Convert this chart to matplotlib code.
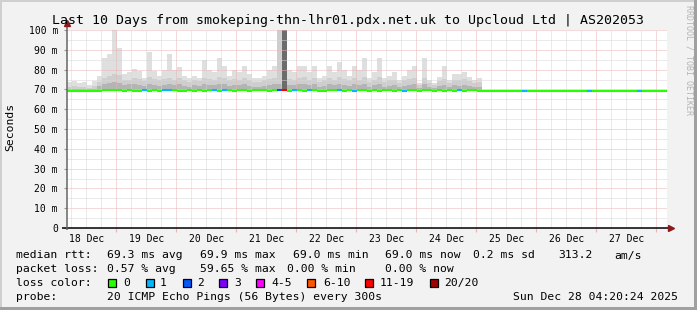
import matplotlib
matplotlib.use('Agg')
import matplotlib.pyplot as plt
from matplotlib.patches import Rectangle
from matplotlib.collections import LineCollection
from datetime import datetime, timedelta

# ---------------- data ----------------
start = datetime(2025, 12, 18, 4, 20, 24)
bin_hours = 2  # consolidation step of the drawn data (hours)

# median rtt per 2-hour bin (ms), 120 bins = 10 days
median_ms = [
    69.0, 69.0, 69.0, 69.0, 69.0, 69.0, 69.0, 69.6, 69.6, 69.6,
    69.6, 69.0, 69.6, 69.0, 69.0, 69.6, 69.0, 69.6, 69.0, 69.6,
    69.6, 69.6, 69.0, 69.0, 69.6, 69.0, 69.6, 69.0, 69.6, 69.6,
    69.0, 69.6, 69.6, 69.0, 69.6, 69.6, 69.0, 69.6, 69.6, 69.6,
    69.0, 69.6, 69.6, 69.6, 69.0, 69.6, 69.6, 69.0, 69.6, 69.6,
    69.0, 69.0, 69.6, 69.6, 69.6, 69.0, 69.6, 69.0, 69.6, 69.6,
    69.0, 69.6, 69.0, 69.6, 69.6, 69.0, 69.6, 69.0, 69.6, 69.6,
    69.0, 69.6, 69.6, 69.0, 69.6, 69.0, 69.6, 69.0, 69.6, 69.0,
    69.6, 69.6, 69.0, 69.3, 69.3, 69.3, 69.3, 69.3, 69.3, 69.3,
    69.3, 69.3, 69.3, 69.3, 69.3, 69.3, 69.3, 69.3, 69.3, 69.3,
    69.3, 69.3, 69.3, 69.3, 69.3, 69.3, 69.3, 69.3, 69.3, 69.3,
    69.3, 69.3, 69.3, 69.3, 69.3, 69.3, 69.3, 69.3, 69.3, 69.3,
]

# smoke (ping spread) for the first 83 bins (ms)
smoke_max = [
    73.5, 74.0, 73.0, 73.5, 72.0, 74.0, 77.0, 86.0, 88.0, 100.0,
    91.0, 78.0, 79.0, 80.5, 79.5, 76.0, 89.0, 79.5, 77.0, 80.0,
    88.0, 79.8, 81.5, 77.0, 75.6, 77.0, 76.0, 85.0, 80.0, 79.0,
    85.7, 82.0, 77.0, 80.0, 79.0, 81.6, 78.0, 75.7, 75.7, 77.0,
    80.0, 82.0, 100.0, 100.0, 80.0, 79.0, 81.6, 81.6, 79.0, 81.6,
    75.7, 77.0, 81.6, 79.0, 83.7, 80.0, 77.0, 82.0, 80.0, 85.7,
    75.7, 79.0, 85.7, 75.7, 77.0, 79.0, 74.5, 77.0, 80.0, 81.6,
    73.0, 85.7, 74.5, 73.0, 76.4, 81.6, 74.5, 78.0, 78.0, 79.0,
    76.4, 74.5, 75.7,
]
smoke_mid = [
    71.0, 71.5, 71.0, 71.2, 70.8, 71.5, 73.5, 76.0, 77.0, 78.0,
    77.5, 74.5, 75.0, 76.0, 75.5, 74.0, 76.5, 75.5, 74.5, 75.5,
    76.0, 75.0, 76.0, 74.5, 73.5, 74.5, 74.0, 76.0, 75.5, 75.0,
    76.5, 76.0, 74.5, 75.5, 75.0, 76.0, 74.5, 73.5, 73.5, 74.5,
    75.5, 76.0, 100.0, 100.0, 75.5, 75.0, 76.0, 76.5, 75.0, 76.0,
    73.5, 74.5, 76.0, 75.0, 76.5, 75.5, 74.5, 76.0, 75.0, 76.5,
    73.5, 75.0, 76.5, 73.5, 74.5, 75.0, 73.0, 74.5, 75.5, 76.0,
    72.0, 76.0, 73.0, 72.0, 74.0, 75.5, 73.0, 75.0, 74.5, 75.5,
    74.0, 73.0, 73.5,
]
smoke_low = [
    70.0, 70.3, 70.0, 70.2, 70.0, 70.4, 71.5, 72.5, 73.0, 73.5,
    73.0, 72.0, 72.5, 72.5, 72.0, 71.5, 72.5, 72.0, 71.5, 72.0,
    72.5, 72.0, 72.5, 71.5, 71.0, 72.0, 71.5, 72.5, 72.0, 72.0,
    72.5, 72.5, 71.5, 72.0, 72.0, 72.5, 71.5, 71.0, 71.0, 71.5,
    72.0, 72.5, 72.5, 100.0, 72.0, 72.0, 72.5, 72.5, 72.0, 72.5,
    71.0, 71.5, 72.5, 72.0, 72.5, 72.0, 71.5, 72.5, 72.0, 72.5,
    71.0, 72.0, 72.5, 71.0, 71.5, 72.0, 71.0, 71.5, 72.0, 72.5,
    70.5, 72.5, 71.0, 70.5, 71.5, 72.0, 71.0, 72.0, 71.5, 72.0,
    71.5, 71.0, 71.0,
]

# bins with packet loss (index of 2-hour bin, lost pings out of 20)
loss_bins = [15, 19, 20, 29, 31, 42, 43, 45, 48, 54, 57, 67, 78, 91, 104, 114]
loss_counts = [1, 1, 1, 1, 1, 2, 12, 1, 1, 1, 1, 1, 1, 1, 1, 1]

loss_labels = ['0', '1', '2', '3', '4-5', '6-10', '11-19', '20/20']
loss_colors = ['#26ff00', '#00b8ff', '#0059ff', '#7e00ff', '#ff00ff',
               '#ff5500', '#ff0000', '#a10000']

y_ticks = [0, 10, 20, 30, 40, 50, 60, 70, 80, 90, 100]
y_labels = ['0', '10 m', '20 m', '30 m', '40 m', '50 m', '60 m', '70 m',
            '80 m', '90 m', '100 m']
day_labels = ['18 Dec', '19 Dec', '20 Dec', '21 Dec', '22 Dec', '23 Dec',
              '24 Dec', '25 Dec', '26 Dec', '27 Dec']

title = 'Last 10 Days from smokeping-thn-lhr01.pdx.net.uk to Upcloud Ltd | AS202053'
row_rtt = [(16, 'median rtt:'), (107, '69.3 ms avg'), (200, '69.9 ms max'),
           (293, '69.0 ms min'), (385, '69.0 ms now'), (473, '0.2 ms sd'),
           (558, '313.2'), (614, 'am/s')]
row_loss = [(16, 'packet loss:'), (107, '0.57 % avg'), (200, '59.65 % max'),
            (287, '0.00 % min'), (385, '0.00 % now')]
row_probe = [(16, 'probe:'), (107, '20 ICMP Echo Pings (56 Bytes) every 300s'),
             (513, 'Sun Dec 28 04:20:24 2025')]

# ---------------- helpers ----------------
W, H = 697, 310
MONO = 'DejaVu Sans Mono'
GRID_MAJOR = '#e9b4b4'
GRID_MINOR = '#d6d6d6'


def fx(px):
    return px / W


def fy(py):
    return 1 - py / H


def loss_class(n):
    if n <= 0:
        return 0
    if n == 1:
        return 1
    if n == 2:
        return 2
    if n == 3:
        return 3
    if n <= 5:
        return 4
    if n <= 10:
        return 5
    if n <= 19:
        return 6
    return 7


def days(dt):
    return (dt - start).total_seconds() / 86400.0


fig = plt.figure(figsize=(W / 100, H / 100), dpi=100, facecolor='#f2f2f2')

# frame of the canvas
fig.add_artist(Rectangle((0, fy(2)), 1, 2 / H, transform=fig.transFigure,
                         color='#cfcfcf', lw=0))
fig.add_artist(Rectangle((0, 0), 2 / W, 1, transform=fig.transFigure,
                         color='#cfcfcf', lw=0))
fig.add_artist(Rectangle((0, 0), 1, 3 / H, transform=fig.transFigure,
                         color='#a0a0a0', lw=0))
fig.add_artist(Rectangle((fx(694), 0), 3 / W, 1, transform=fig.transFigure,
                         color='#a0a0a0', lw=0))

ax = fig.add_axes([fx(67), fy(228), 600 / W, 198 / H])
ax.set_facecolor('white')
ax.set_xlim(0, 10)
ax.set_ylim(0, 100)
for s in ax.spines.values():
    s.set_visible(False)

bw = bin_hours / 24.0
nb = len(median_ms)
loss_full = [0] * nb
for b, c in zip(loss_bins, loss_counts):
    loss_full[b] = c

# smoke
ns = len(smoke_max)
xs = [i * bw for i in range(ns)]
med_s = median_ms[:ns]
for vals, col in ((smoke_max, '#dfdfdf'), (smoke_mid, '#cecece'), (smoke_low, '#b4b4b4')):
    cols = [('#6c6c6c' if loss_full[i] >= 11 else col) for i in range(ns)]
    ax.bar(xs, [v - m for v, m in zip(vals, med_s)], bottom=med_s, width=bw,
           align='edge', color=cols, linewidth=0, zorder=1)

# grid
for v in range(5, 100, 10):
    ax.axhline(v, color=GRID_MINOR, lw=0.72, ls=(0, (1, 1)), zorder=2)
for v in range(10, 101, 10):
    ax.axhline(v, color=GRID_MAJOR, lw=0.72, ls=(0, (1, 1)), zorder=2)
t = datetime(2025, 12, 18, 6, 0, 0)
midnights = []
while t < start + timedelta(days=10):
    if t.hour == 0:
        midnights.append(days(t))
        ax.axvline(days(t), color=GRID_MAJOR, lw=0.72, ls=(0, (1, 1)), zorder=2)
    else:
        ax.axvline(days(t), color=GRID_MINOR, lw=0.72, ls=(0, (1, 1)), zorder=2)
    t += timedelta(hours=6)

# median line coloured by loss
segs = []
segc = []
for i in range(nb):
    segs.append([(i * bw, median_ms[i]), ((i + 1) * bw, median_ms[i])])
    segc.append(loss_colors[loss_class(loss_full[i])])
ax.add_collection(LineCollection(segs, colors=segc, linewidths=1.5,
                                 capstyle='butt', zorder=5))

# axes lines with arrows
ax.plot([-5 / 600, 601 / 600], [0, 0], transform=ax.transAxes, color='black',
        lw=1.1, clip_on=False, zorder=6, solid_capstyle='butt')
ax.plot([1.006], [0], marker='>', ms=4.5, color='#8b1a1a', transform=ax.transAxes,
        clip_on=False, zorder=7)
ax.plot([0, 0], [-2 / 198, 203 / 198], transform=ax.transAxes, color='#666666',
        lw=1.1, clip_on=False, zorder=6, solid_capstyle='butt')
ax.plot([0], [205 / 198], marker='^', ms=4.5, color='#8b1a1a', transform=ax.transAxes,
        clip_on=False, zorder=7)

# ticks
noon = [days(datetime(2025, 12, 18 + k, 12, 0, 0)) for k in range(10)]
ax.set_xticks(noon)
ax.set_xticklabels(day_labels, fontfamily=MONO, fontsize=7)
ax.set_xticks(midnights, minor=True)
ax.tick_params(axis='x', which='major', length=0, pad=4.5)
ax.tick_params(axis='x', which='minor', length=3, color=GRID_MAJOR, width=0.8)
ax.set_yticks(y_ticks)
ax.set_yticklabels(y_labels, fontfamily=MONO, fontsize=7)
ax.tick_params(axis='y', length=2.5, color='#999999', width=0.8, pad=4)

# texts
fig.text(fx(348), fy(24), title, fontfamily=MONO, fontsize=9.5, ha='center',
         va='baseline')
fig.text(fx(10), fy(127), 'Seconds', fontfamily=MONO, fontsize=8.2, rotation=90,
         ha='center', va='center')
fig.text(fx(688.5), fy(60), 'RRDTOOL / TOBI OETIKER', fontfamily=MONO, fontsize=6,
         rotation=270, ha='center', va='center', color='#b4b4b4')

for xp, s in row_rtt:
    fig.text(fx(xp), fy(258.5), s, fontfamily=MONO, fontsize=8.2, va='baseline')
for xp, s in row_loss:
    fig.text(fx(xp), fy(272.3), s, fontfamily=MONO, fontsize=8.2, va='baseline')
for xp, s in row_probe:
    fig.text(fx(xp), fy(299.5), s, fontfamily=MONO, fontsize=8.2, va='baseline')
fig.text(fx(16), fy(286), 'loss color:', fontfamily=MONO, fontsize=8.2, va='baseline')
box_x = [108, 146, 183, 219, 256, 307, 365, 430]
lab_x = [123, 160, 197, 234, 271, 323, 380, 444]
for bx, lx, lab, col in zip(box_x, lab_x, loss_labels, loss_colors):
    fig.add_artist(Rectangle((fx(bx), fy(287)), 8 / W, 8 / H, transform=fig.transFigure,
                             facecolor=col, edgecolor='black', lw=0.9))
    fig.text(fx(lx), fy(286), lab, fontfamily=MONO, fontsize=8.2, va='baseline')

fig.savefig('out.png', dpi=100, facecolor=fig.get_facecolor())
